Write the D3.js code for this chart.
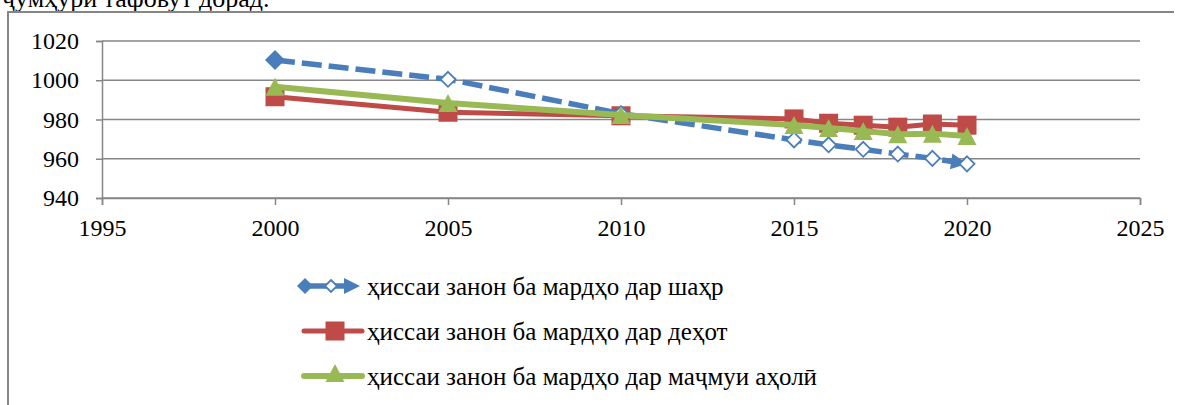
<!DOCTYPE html>
<html>
<head>
<meta charset="utf-8">
<script src="https://cdn.jsdelivr.net/npm/d3@7/dist/d3.min.js"></script>
<style>
    svg text, text { font-family: 'Liberation Serif', 'Times New Roman', serif !important; }
</style>
</head>
<body style="margin:0">
<script>
// data
var years = [2000, 2005, 2010, 2015, 2016, 2017, 2018, 2019, 2020];
var cityValues = [1010.3, 1000.5, 983, 969.6, 967.1, 964.8, 962.4, 960.2, 957.4];
var villageValues = [991.6, 983.7, 981.9, 980.3, 978.1, 977.1, 976.1, 977.7, 977.1];
var totalValues = [996.7, 988.4, 982.3, 977.2, 975.7, 974.2, 972.5, 972.8, 971.6];
var seriesNames = [
    "ҳиссаи занон ба мардҳо дар шаҳр",
    "ҳиссаи занон ба мардҳо дар деҳот",
    "ҳиссаи занон ба мардҳо дар маҷмуи аҳолӣ"
];
var xTicks = [1995, 2000, 2005, 2010, 2015, 2020, 2025];
var yTicks = [940, 960, 980, 1000, 1020];
var topText = "ҷумҳурӣ тафовут дорад.";

var W = 1184, H = 405;
var grey = "#868686";
var blue = "#4a7ebb", red = "#be4b48", green = "#98b954";
var faceName = ["Liberation", "Serif"].join(" ");

var svg = d3.select("body").append("svg")
    .attr("width", W)
    .attr("height", H)
    .style("display", "block");

var x = d3.scaleLinear().domain([1995, 2025]).range([102, 1140]);
var y = d3.scaleLinear().domain([940, 1020]).range([198, 41]);

// every text gets the Times-like face
function serifText(sel, size) {
    sel.style("font-family", function () { return "'" + faceName + "'"; })
        .style("font-size", function () { return size + "px"; })
        .attr("fill", "#000");
}

/* page text above the chart (cut off by the crop) */
svg.append("text")
    .attr("x", 2)
    .attr("y", 7)
    .text(topText)
    .call(serifText, 26);

/* chart frame */
svg.append("path")
    .attr("d", "M8,405V12H1174")
    .attr("fill", "none")
    .attr("stroke", grey)
    .attr("stroke-width", 2);

/* gridlines */
svg.append("g")
    .selectAll("line")
    .data(yTicks)
    .enter()
    .append("line")
    .attr("x1", x(1995))
    .attr("x2", x(2025))
    .attr("y1", function (d) { return y(d); })
    .attr("y2", function (d) { return y(d); })
    .attr("stroke", grey)
    .attr("stroke-width", 1.5);

/* axes */
var yAxis = d3.axisLeft(y).tickValues(yTicks).tickSize(6).tickPadding(17).tickFormat(d3.format("d"));
var xAxis = d3.axisBottom(x).tickValues(xTicks).tickSize(7).tickPadding(14).tickFormat(d3.format("d"));

var gy = svg.append("g")
    .attr("transform", "translate(" + x(1995) + ",0)")
    .call(yAxis);
var gx = svg.append("g")
    .attr("transform", "translate(0," + y(940) + ")")
    .call(xAxis);

[gx, gy].forEach(function (g) {
    g.attr("font-family", faceName);
    g.select(".domain").attr("stroke", grey).attr("stroke-width", 1.5);
    g.selectAll(".tick line").attr("stroke", grey).attr("stroke-width", 1.5);
    g.selectAll(".tick text").call(serifText, 24);
});

/* markers */
function diamond(g, cx, cy, r, fill, stroke, sw) {
    g.append("path")
        .attr("d", "M" + cx + "," + (cy - r) + "L" + (cx + r) + "," + cy +
            "L" + cx + "," + (cy + r) + "L" + (cx - r) + "," + cy + "Z")
        .attr("fill", fill)
        .attr("stroke", stroke)
        .attr("stroke-width", sw || 0);
}
function square(g, cx, cy, s, fill) {
    g.append("rect")
        .attr("x", cx - s / 2)
        .attr("y", cy - s / 2)
        .attr("width", s)
        .attr("height", s)
        .attr("fill", fill);
}
function triangle(g, cx, cy, w, h, fill) {
    g.append("path")
        .attr("d", "M" + cx + "," + (cy - h / 2) + "L" + (cx + w / 2) + "," + (cy + h / 2) +
            "L" + (cx - w / 2) + "," + (cy + h / 2) + "Z")
        .attr("fill", fill);
}

// arrow head for the end of the dashed line
var defs = svg.append("defs");
defs.append("marker")
    .attr("id", "arrowEnd")
    .attr("viewBox", "0 0 10 10")
    .attr("refX", 10)
    .attr("refY", 5)
    .attr("markerUnits", "userSpaceOnUse")
    .attr("markerWidth", 17)
    .attr("markerHeight", 16)
    .attr("orient", "auto")
    .append("path")
    .attr("d", "M0,0L10,5L0,10Z")
    .attr("fill", blue);

var line = d3.line()
    .x(function (d) { return x(d[0]); })
    .y(function (d) { return y(d[1]); });

function pairs(vals) {
    return years.map(function (yr, i) { return [yr, vals[i]]; });
}

/* LAYERS: village (red) */
var gRed = svg.append("g");
gRed.append("path")
    .attr("d", line(pairs(villageValues)))
    .attr("fill", "none")
    .attr("stroke", red)
    .attr("stroke-width", 5)
    .attr("stroke-linejoin", "round");
pairs(villageValues).forEach(function (p) {
    square(gRed, x(p[0]), y(p[1]), 19, red);
});

/* city (blue, dashed) */
var gBlue = svg.append("g");
var cityPts = pairs(cityValues);
gBlue.append("path")
    .attr("d", line(cityPts))
    .attr("fill", "none")
    .attr("stroke", blue)
    .attr("stroke-width", 5.5)
    .attr("stroke-dasharray", "20,7")
    .attr("marker-end", "url(#arrowEnd)");
cityPts.forEach(function (p, i) {
    if (i === 0) {
        diamond(gBlue, x(p[0]), y(p[1]), 10, blue, blue, 0);
    } else {
        diamond(gBlue, x(p[0]), y(p[1]), 7.5, "#fff", blue, 1.8);
    }
});

/* total (green) */
var gGreen = svg.append("g");
gGreen.append("path")
    .attr("d", line(pairs(totalValues)))
    .attr("fill", "none")
    .attr("stroke", green)
    .attr("stroke-width", 6)
    .attr("stroke-linejoin", "round");
pairs(totalValues).forEach(function (p) {
    triangle(gGreen, x(p[0]), y(p[1]), 19, 18, green);
});

/* legend */
var legend = svg.append("g");
var rowY = [286, 331, 376];
var lx0 = 304, lx1 = 362, lxm = 335;

// row 1: filled diamond, dash, hollow diamond, arrow
legend.append("line")
    .attr("x1", lx0 + 6).attr("x2", 350)
    .attr("y1", rowY[0]).attr("y2", rowY[0])
    .attr("stroke", blue).attr("stroke-width", 5.5);
diamond(legend, lx0 + 1, rowY[0], 8, blue, blue, 0);
diamond(legend, 331, rowY[0], 6, "#fff", blue, 1.8);
legend.append("path")
    .attr("d", "M344," + (rowY[0] - 8) + "L360," + rowY[0] + "L344," + (rowY[0] + 8) + "Z")
    .attr("fill", blue);

// row 2
legend.append("line")
    .attr("x1", lx0).attr("x2", lx1)
    .attr("y1", rowY[1]).attr("y2", rowY[1])
    .attr("stroke", red).attr("stroke-width", 5).attr("stroke-linecap", "round");
square(legend, lxm, rowY[1], 19, red);

// row 3
legend.append("line")
    .attr("x1", lx0).attr("x2", lx1)
    .attr("y1", rowY[2]).attr("y2", rowY[2])
    .attr("stroke", green).attr("stroke-width", 6).attr("stroke-linecap", "round");
triangle(legend, lxm, rowY[2] - 3, 19, 18, green);

legend.selectAll("text")
    .data(seriesNames)
    .enter()
    .append("text")
    .attr("x", 367)
    .attr("y", function (d, i) { return rowY[i] + 9; })
    .text(function (d) { return d; })
    .call(serifText, 25);
</script>
</body>
</html>
